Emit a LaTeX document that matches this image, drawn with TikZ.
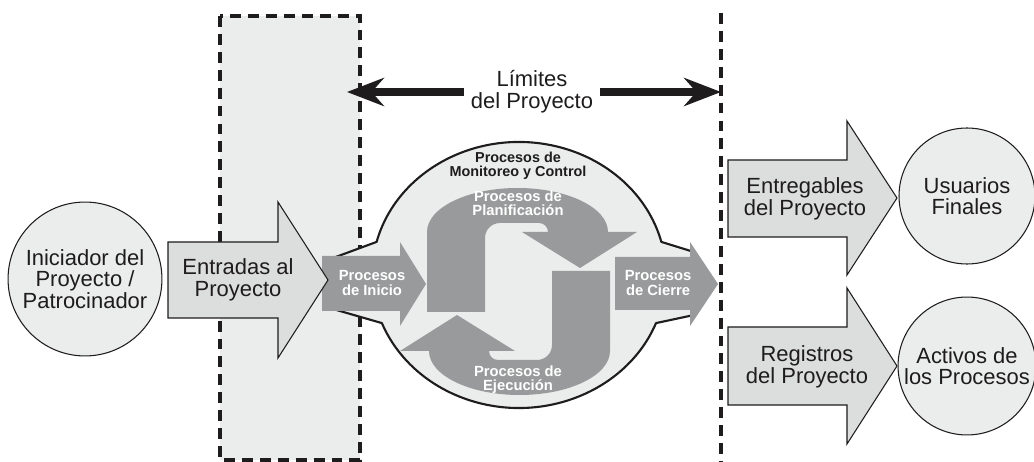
\documentclass[tikz,border=0pt]{standalone}
\usepackage{fontspec}
\setmainfont{Liberation Sans}
\usetikzlibrary{arrows.meta}
\definecolor{lightfill}{RGB}{235,236,236}
\definecolor{arrowfill}{RGB}{220,221,221}
\definecolor{midgray}{RGB}{153,154,155}
\definecolor{ink}{RGB}{30,28,29}
\begin{document}
\begin{tikzpicture}[x=0.02cm,y=-0.02cm,
  dashline/.style={draw=ink,line width=2.1pt,dash pattern=on 6.2pt off 4pt},
  bodytext/.style={align=center,font=\fontsize{12.5}{12.3}\selectfont,text=ink,inner sep=0pt},
  circ/.style={circle,draw=ink,line width=0.6pt,fill=lightfill,inner sep=0pt,align=center,
               font=\fontsize{12.5}{12.3}\selectfont,text=ink},
  lightarrow/.style={fill=arrowfill,draw=ink,line width=0.6pt,line join=miter},
  darkarrow/.style={fill=midgray},
  whitelabel/.style={align=center,text=white,font=\fontsize{8.4}{8}\selectfont\bfseries,inner sep=0pt},
  blacklabel/.style={align=center,text=ink,font=\fontsize{8.2}{7.8}\selectfont\bfseries,inner sep=0pt},
  limarrow/.style={line width=4pt,draw=ink,-{Stealth[length=21pt,width=16pt,inset=7pt]}},
  blob/.style={fill=lightfill,draw=ink,line width=1.2pt,line join=round}
]
\useasboundingbox (0,0) rectangle (1034,462);

% project boundary box and line
\draw[dashline,fill=lightfill] (220,16) rectangle (360,460);
\draw[dashline] (721,13) -- (721,462);

% limits arrow
\node[bodytext] (lim) at (532,92) {Límites\\del Proyecto};
\coordinate (limL) at (347,92);
\coordinate (limR) at (721,92);
\draw[limarrow,shorten <=4pt] (lim) -- (limL);
\draw[limarrow,shorten <=4pt] (lim) -- (limR);

% central blob
\draw[blob] (333,258) -- (376.6,241.9)
  arc[start angle=194.4,end angle=345.6,x radius=147,y radius=133]
  -- (694,252) -- (694,315) -- (656,323.1)
  arc[start angle=21.2,end angle=158.8,x radius=147,y radius=133]
  -- (333,309) -- cycle;

% cycle arrows (planning / executing)
\def\sarrow{(427,312) -- (427,232)
  arc[start angle=180,end angle=360,x radius=90.5,y radius=44]
  -- (637,232) -- (580,268) -- (522,232) -- (548,232)
  arc[start angle=0,end angle=-90,radius=9] -- (500,223)
  arc[start angle=-90,end angle=-180,radius=15] -- (485,312) -- cycle}
\fill[midgray] \sarrow;
\begin{scope}[rotate around={180:(518.5,291.5)}]
  \fill[midgray] \sarrow;
\end{scope}

% initiating and closing arrows
\fill[darkarrow] (322,256) -- (400,256) -- (400,242) -- (426,284) -- (400,326) -- (400,311) -- (322,311) -- cycle;
\fill[darkarrow] (615,257) -- (690,257) -- (690,242) -- (718,284) -- (690,326) -- (690,310) -- (615,310) -- cycle;

% labels of the process groups
\node[blacklabel] (mon) at (518,166) {Procesos de\\Monitoreo y Control};
\node[whitelabel] (plan) at (518,203) {Procesos de\\Planificación};
\node[whitelabel] (ejec) at (518,380) {Procesos de\\Ejecución};
\node[whitelabel] (ini) at (372,283) {Procesos\\de Inicio};
\node[whitelabel] (cie) at (658,283) {Procesos\\de Cierre};

% inputs
\node[circ,minimum size=87.6pt] (spon) at (85,279) {Iniciador del\\Proyecto /\\Patrocinador};
\draw[lightarrow] (168,242) -- (278,242) -- (278,202) -- (328,280) -- (278,358) -- (278,318) -- (168,318) -- cycle;
\node[bodytext] (ent) at (238,280) {Entradas al\\Proyecto};

% outputs
\draw[lightarrow] (728,160) -- (847,160) -- (847,121) -- (897,198) -- (847,275) -- (847,237) -- (728,237) -- cycle;
\node[bodytext] (entreg) at (805,199) {Entregables\\del Proyecto};
\draw[lightarrow] (728,327) -- (847,327) -- (847,288) -- (897,366) -- (847,444) -- (847,405) -- (728,405) -- cycle;
\node[bodytext] (reg) at (807,367) {Registros\\del Proyecto};

\node[circ,minimum size=77.4pt] (usu) at (967,196) {Usuarios\\Finales};
\node[circ,minimum size=78.5pt] (act) at (967,366) {Activos de\\los Procesos};
\end{tikzpicture}
\end{document}
